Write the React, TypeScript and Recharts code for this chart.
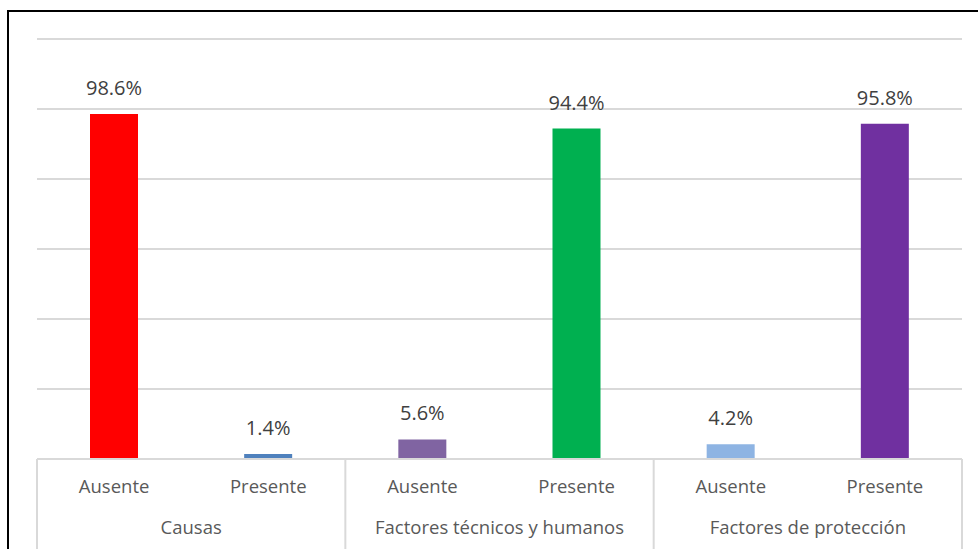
import { Bar, BarChart, CartesianGrid, Cell, LabelList, XAxis, YAxis } from "recharts";

const groups = ["Causas", "Factores técnicos y humanos", "Factores de protección"];
const subLabels = ["Ausente", "Presente", "Ausente", "Presente", "Ausente", "Presente"];
const values = [98.6, 1.4, 5.6, 94.4, 4.2, 95.8];
const barColors = ["#FF0000", "#4F81BD", "#8064A2", "#00B050", "#8EB4E3", "#7030A0"];
const yTicks = [0, 20, 40, 60, 80, 100, 120];

const data = values.map((value, i) => ({
  key: `${i}`,
  label: subLabels[i],
  group: groups[Math.floor(i / 2)],
  value,
}));

const FONT = "'Open Sans', 'Liberation Sans', sans-serif";
const TEXT = "#595959";
const GRID = "#d9d9d9";
const CHART_W = 978;
const CHART_H = 549;
const MARGIN = { top: 39, right: 16, left: 37, bottom: 0 };
const BAND = (CHART_W - MARGIN.left - MARGIN.right) / data.length;

function CategoryTick(props: any) {
  const { x, y, index } = props;
  const row = data[index];
  if (!row) return null;
  const half = BAND / 2;
  return (
    <g>
      <text x={x} y={y + 34} textAnchor="middle" fontFamily={FONT} fontSize={18.5} fill={TEXT}>
        {row.label}
      </text>
      {index % 2 === 0 && (
        <>
          <line x1={x - half} x2={x - half} y1={y} y2={CHART_H} stroke={GRID} strokeWidth={2} />
          <text x={x + half} y={y + 75} textAnchor="middle" fontFamily={FONT} fontSize={18.5} fill={TEXT}>
            {row.group}
          </text>
        </>
      )}
      {index === data.length - 1 && (
        <line x1={x + half} x2={x + half} y1={y} y2={CHART_H} stroke={GRID} strokeWidth={2} />
      )}
    </g>
  );
}

export default function App() {
  return (
    <div style={{ position: "fixed", left: 0, top: 0, width: CHART_W, height: CHART_H, overflow: "hidden", background: "#fff" }}>
      <div
        style={{
          position: "absolute",
          left: 7,
          top: 10,
          width: 1000,
          height: 600,
          border: "2px solid #000",
          boxSizing: "border-box",
        }}
      />
      <div style={{ position: "absolute", left: 0, top: 0 }}>
        <BarChart width={CHART_W} height={CHART_H} data={data} margin={MARGIN}>
          <CartesianGrid vertical={false} stroke={GRID} strokeWidth={2} />
          <YAxis hide domain={[0, 120]} ticks={yTicks} />
          <XAxis
            dataKey="key"
            height={90}
            axisLine={{ stroke: GRID, strokeWidth: 2 }}
            tickLine={false}
            tickSize={0}
            tickMargin={0}
            interval={0}
            tick={<CategoryTick />}
          />
          <Bar dataKey="value" barSize={48} isAnimationActive={false}>
            {data.map((d, i) => (
              <Cell key={d.key} fill={barColors[i]} />
            ))}
            <LabelList
              dataKey="value"
              position="top"
              offset={19}
              formatter={(v: any) => `${Number(v).toFixed(1)}%`}
              style={{ fontFamily: FONT, fontSize: 20, fill: "#404040" }}
            />
          </Bar>
        </BarChart>
      </div>
    </div>
  );
}
